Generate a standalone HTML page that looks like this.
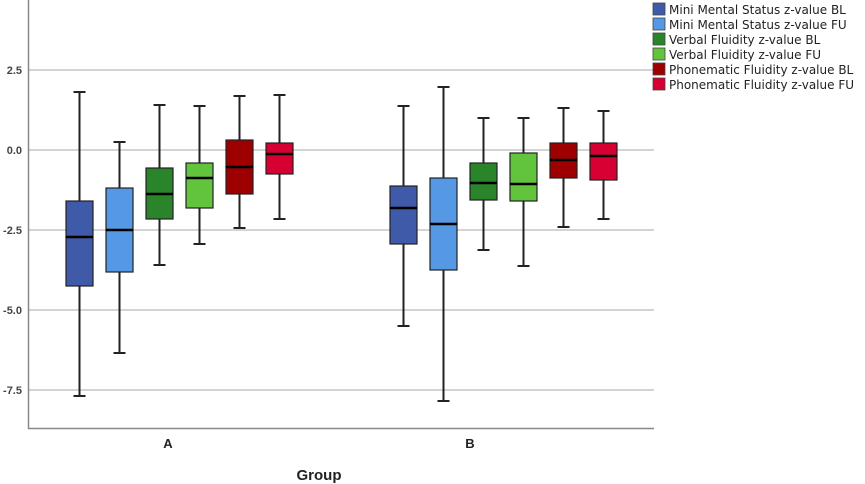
<!DOCTYPE html>
<html><head><meta charset="utf-8"><style>
html,body{margin:0;padding:0;background:#fff;}
svg{display:block;}
text{font-family:"Liberation Sans",sans-serif;}
.lg text{font-family:"DejaVu Sans",sans-serif;font-size:12px;}
</style></head><body>
<svg width="865" height="484" viewBox="0 0 865 484" xmlns="http://www.w3.org/2000/svg">
<g stroke="#d4d4d4" stroke-width="2">
<line x1="29" y1="70" x2="654" y2="70"/>
<line x1="29" y1="150" x2="654" y2="150"/>
<line x1="29" y1="230" x2="654" y2="230"/>
<line x1="29" y1="310" x2="654" y2="310"/>
<line x1="29" y1="390" x2="654" y2="390"/>
</g>
<polyline points="28.5,0 28.5,428.5 654,428.5" stroke="#888" stroke-width="1.5" fill="none"/>
<g font-size="11" font-weight="bold" fill="#444" text-anchor="end">
<text x="22" y="74">2.5</text>
<text x="22" y="154">0.0</text>
<text x="22" y="234">-2.5</text>
<text x="22" y="314">-5.0</text>
<text x="22" y="394">-7.5</text>
</g>
<g stroke="#222" stroke-width="2">
<path d="M79.5 92V396M73.5 92H85.5M73.5 396H85.5"/>
<rect x="66" y="201" width="27" height="85" fill="#3f5aa8" stroke-width="1.2"/>
<path d="M66 237H93" stroke="#000" stroke-width="2.5"/>
<path d="M119.5 142V353M113.5 142H125.5M113.5 353H125.5"/>
<rect x="106" y="188" width="27" height="84" fill="#5598e4" stroke-width="1.2"/>
<path d="M106 230H133" stroke="#000" stroke-width="2.5"/>
<path d="M159.5 105V265M153.5 105H165.5M153.5 265H165.5"/>
<rect x="146" y="168" width="27" height="51" fill="#2a842a" stroke-width="1.2"/>
<path d="M146 194H173" stroke="#000" stroke-width="2.5"/>
<path d="M199.5 106V244M193.5 106H205.5M193.5 244H205.5"/>
<rect x="186" y="163" width="27" height="45" fill="#62c43c" stroke-width="1.2"/>
<path d="M186 178H213" stroke="#000" stroke-width="2.5"/>
<path d="M239.5 96V228M233.5 96H245.5M233.5 228H245.5"/>
<rect x="226" y="140" width="27" height="54" fill="#9e0000" stroke-width="1.2"/>
<path d="M226 167H253" stroke="#000" stroke-width="2.5"/>
<path d="M279.5 95V219M273.5 95H285.5M273.5 219H285.5"/>
<rect x="266" y="143" width="27" height="31" fill="#d70032" stroke-width="1.2"/>
<path d="M266 154H293" stroke="#000" stroke-width="2.5"/>
<path d="M403.5 106V326M397.5 106H409.5M397.5 326H409.5"/>
<rect x="390" y="186" width="27" height="58" fill="#3f5aa8" stroke-width="1.2"/>
<path d="M390 208H417" stroke="#000" stroke-width="2.5"/>
<path d="M443.5 87V401M437.5 87H449.5M437.5 401H449.5"/>
<rect x="430" y="178" width="27" height="92" fill="#5598e4" stroke-width="1.2"/>
<path d="M430 224H457" stroke="#000" stroke-width="2.5"/>
<path d="M483.5 118V250M477.5 118H489.5M477.5 250H489.5"/>
<rect x="470" y="163" width="27" height="37" fill="#2a842a" stroke-width="1.2"/>
<path d="M470 183H497" stroke="#000" stroke-width="2.5"/>
<path d="M523.5 118V266M517.5 118H529.5M517.5 266H529.5"/>
<rect x="510" y="153" width="27" height="48" fill="#62c43c" stroke-width="1.2"/>
<path d="M510 184H537" stroke="#000" stroke-width="2.5"/>
<path d="M563.5 108V227M557.5 108H569.5M557.5 227H569.5"/>
<rect x="550" y="143" width="27" height="35" fill="#9e0000" stroke-width="1.2"/>
<path d="M550 160H577" stroke="#000" stroke-width="2.5"/>
<path d="M603.5 111V219M597.5 111H609.5M597.5 219H609.5"/>
<rect x="590" y="143" width="27" height="37" fill="#d70032" stroke-width="1.2"/>
<path d="M590 156H617" stroke="#000" stroke-width="2.5"/>
</g>
<g font-size="13" font-weight="bold" fill="#222" text-anchor="middle">
<text x="168" y="448">A</text>
<text x="470" y="448">B</text>
<text x="319" y="480" font-size="15">Group</text>
</g>
<g stroke="#444" stroke-width="0.8">
<rect x="653" y="3" width="12" height="12" fill="#3f5aa8"/>
<rect x="653" y="18" width="12" height="12" fill="#5598e4"/>
<rect x="653" y="33" width="12" height="12" fill="#2a842a"/>
<rect x="653" y="48" width="12" height="12" fill="#62c43c"/>
<rect x="653" y="63" width="12" height="12" fill="#9e0000"/>
<rect x="653" y="78" width="12" height="12" fill="#d70032"/>
</g>
<g class="lg" fill="#222">
<text x="669" y="14">Mini Mental Status z-value BL</text>
<text x="669" y="29">Mini Mental Status z-value FU</text>
<text x="669" y="44">Verbal Fluidity z-value BL</text>
<text x="669" y="59">Verbal Fluidity z-value FU</text>
<text x="669" y="74">Phonematic Fluidity z-value BL</text>
<text x="669" y="89">Phonematic Fluidity z-value FU</text>
</g>
</svg>
</body></html>
